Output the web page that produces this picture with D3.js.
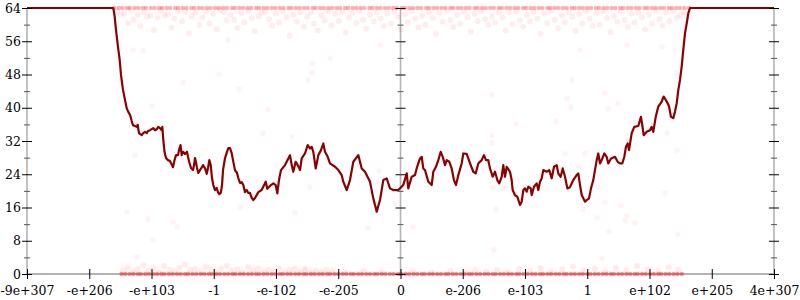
<!DOCTYPE html>
<html>
<head>
<meta charset="utf-8">
<script src="https://cdn.jsdelivr.net/npm/d3@7"></script>
<style>
body{margin:0;background:#fff;}
svg{display:block;background:#fff;}
.axis text{font-family:"DejaVu Serif";font-size:12.5px;fill:#000;}
</style>
</head>
<body>
<script>
//x axis: ordinal positions of floats, one unit per labelled tick
var xTickValues = [-6,-5,-4,-3,-2,-1,0,1,2,3,4,5,6];
var xTickLabels = ["-9e+307","-e+206","-e+103","-1","-e-102","-e-205","0","e-206","e-103","1","e+102","e+205","4e+307"];
//y axis: bits of error
var yMajor = [0,8,16,24,32,40,48,56,64];
var yMinor = [4,12,20,28,36,44,52,60];

//average error line [x, bits]
var avgError = [[-6,64],[-4.614,64],[-4.594,62.3],[-4.570,58.7],[-4.538,54.6],[-4.511,51.5],[-4.490,47.9],[-4.458,44.3],[-4.426,41.9],[-4.398,39.9],[-4.373,39.0],[-4.345,38.3],[-4.318,36.8],[-4.297,35.8],[-4.265,35.6],[-4.238,35.4],[-4.222,35.9],[-4.201,33.9],[-4.157,33.4],[-4.132,33.9],[-4.104,34.2],[-4.077,33.9],[-4.056,34.4],[-4.024,34.6],[-3.971,35.1],[-3.944,34.6],[-3.912,34.9],[-3.891,35.4],[-3.863,35.1],[-3.836,34.6],[-3.826,35.4],[-3.810,32.2],[-3.791,29.4],[-3.767,27.9],[-3.735,27.4],[-3.703,27.2],[-3.671,26.2],[-3.655,25.7],[-3.630,27.4],[-3.606,28.6],[-3.574,28.6],[-3.558,29.8],[-3.534,31.0],[-3.515,28.6],[-3.494,29.4],[-3.462,28.9],[-3.430,29.4],[-3.414,28.2],[-3.393,26.9],[-3.365,25.5],[-3.333,25.0],[-3.317,26.2],[-3.301,27.9],[-3.285,26.9],[-3.269,25.5],[-3.248,24.3],[-3.221,25.0],[-3.189,25.7],[-3.173,26.2],[-3.141,25.5],[-3.113,24.1],[-3.092,25.5],[-3.071,27.4],[-3.049,26.2],[-3.028,23.1],[-3.007,21.4],[-2.980,20.2],[-2.953,20.7],[-2.932,19.7],[-2.911,19.2],[-2.888,19.5],[-2.867,21.4],[-2.851,25.0],[-2.819,27.9],[-2.787,29.4],[-2.766,30.3],[-2.739,30.3],[-2.712,29.1],[-2.691,27.4],[-2.659,25.0],[-2.626,24.3],[-2.606,23.1],[-2.578,21.9],[-2.551,22.1],[-2.525,21.4],[-2.498,19.7],[-2.471,20.2],[-2.445,19.5],[-2.418,19.5],[-2.390,18.3],[-2.365,17.8],[-2.337,18.3],[-2.284,19.7],[-2.230,20.2],[-2.165,22.2],[-2.140,20.5],[-2.096,21.2],[-2.043,21.8],[-2.005,21.4],[-1.979,19.4],[-1.952,22.6],[-1.920,25.0],[-1.855,26.2],[-1.802,27.8],[-1.775,28.6],[-1.748,26.2],[-1.722,24.6],[-1.684,27.0],[-1.651,26.2],[-1.614,25.0],[-1.587,27.8],[-1.534,29.0],[-1.491,31.0],[-1.454,30.2],[-1.426,30.6],[-1.401,29.4],[-1.362,25.4],[-1.320,28.6],[-1.277,29.8],[-1.240,31.4],[-1.213,29.4],[-1.169,28.2],[-1.133,26.6],[-1.052,25.8],[-0.999,25.0],[-0.945,23.8],[-0.919,22.2],[-0.864,20.2],[-0.811,22.6],[-0.758,27.0],[-0.678,28.6],[-0.623,25.4],[-0.570,24.6],[-0.490,22.2],[-0.437,18.2],[-0.382,15.0],[-0.329,17.8],[-0.276,22.6],[-0.222,23.0],[-0.169,20.6],[-0.116,20.2],[-0.035,20.2],[0.045,21.4],[0.100,24.2],[0.125,20.6],[0.180,23.4],[0.233,23.8],[0.260,25.4],[0.313,27.8],[0.341,28.2],[0.366,25.4],[0.394,25.0],[0.447,22.2],[0.501,21.4],[0.527,24.6],[0.570,25.8],[0.607,27.4],[0.646,29.4],[0.678,28.2],[0.715,26.2],[0.742,27.4],[0.784,27.0],[0.822,25.4],[0.859,22.6],[0.892,21.4],[0.929,23.8],[0.983,26.6],[1.009,29.0],[1.063,28.9],[1.089,27.8],[1.128,26.2],[1.169,24.6],[1.208,24.2],[1.250,26.6],[1.304,27.4],[1.341,28.6],[1.373,27.4],[1.410,27.4],[1.438,25.4],[1.481,23.4],[1.518,24.6],[1.555,22.6],[1.587,21.8],[1.626,23.4],[1.651,26.2],[1.679,23.4],[1.706,25.8],[1.759,24.6],[1.786,22.6],[1.802,20.2],[1.839,19.0],[1.876,18.6],[1.920,16.6],[1.947,17.4],[1.973,20.2],[2.000,20.6],[2.027,19.8],[2.053,21.0],[2.092,20.6],[2.108,19.0],[2.145,21.0],[2.188,21.8],[2.214,20.2],[2.241,22.2],[2.268,23.0],[2.294,25.0],[2.349,24.6],[2.390,25.0],[2.429,23.0],[2.466,25.8],[2.509,26.2],[2.535,24.2],[2.573,23.4],[2.606,25.4],[2.643,23.4],[2.680,20.6],[2.723,20.9],[2.776,22.6],[2.830,23.8],[2.856,24.2],[2.884,21.4],[2.911,19.0],[2.937,18.2],[2.964,17.4],[2.991,17.8],[3.028,18.2],[3.060,20.6],[3.097,22.6],[3.124,25.0],[3.152,27.4],[3.177,29.0],[3.205,26.6],[3.232,27.4],[3.274,29.0],[3.312,28.2],[3.338,26.6],[3.382,27.8],[3.446,28.2],[3.489,27.0],[3.526,26.6],[3.563,26.6],[3.595,28.2],[3.622,30.6],[3.650,31.4],[3.671,29.8],[3.692,31.8],[3.714,33.9],[3.756,35.4],[3.820,35.6],[3.863,37.8],[3.884,35.8],[3.907,33.4],[3.955,34.2],[4.008,34.6],[4.035,35.4],[4.061,34.2],[4.100,37.8],[4.141,40.3],[4.196,41.5],[4.228,42.7],[4.276,41.5],[4.313,40.4],[4.345,37.8],[4.382,37.5],[4.410,39.1],[4.437,41.1],[4.463,44.3],[4.490,46.7],[4.517,49.9],[4.543,53.9],[4.570,57.9],[4.598,60.3],[4.623,62.7],[4.651,64],[6,64]];

//sample points sitting exactly at 64 bits (x only)
var pointsAt64 = [-4.60,-4.53,-4.47,-4.40,-4.35,-4.27,-4.21,-4.14,-4.09,-4.01,-3.95,-3.88,-3.83,-3.76,-3.70,-3.62,-3.57,-3.50,-3.44,-3.36,-3.31,-3.24,-3.18,-3.11,-3.05,-2.98,-2.92,-2.85,-2.79,-2.71,-2.66,-2.59,-2.53,-2.46,-2.40,-2.32,-2.27,-2.20,-2.14,-2.07,-2.01,-1.94,-1.88,-1.80,-1.75,-1.68,-1.62,-1.55,-1.49,-1.41,-1.36,-1.29,-1.23,-1.16,-1.10,-1.03,-0.97,-0.89,-0.84,-0.77,-0.71,-0.64,-0.58,-0.50,-0.45,-0.38,-0.32,-0.25,-0.19,-0.12,-0.06,0.02,0.07,0.14,0.20,0.27,0.33,0.41,0.46,0.53,0.59,0.66,0.72,0.80,0.85,0.92,0.98,1.05,1.11,1.19,1.24,1.31,1.37,1.44,1.50,1.58,1.63,1.70,1.76,1.83,1.89,1.97,2.02,2.09,2.15,2.22,2.28,2.36,2.41,2.48,2.54,2.61,2.67,2.75,2.80,2.87,2.93,3.00,3.06,3.14,3.19,3.26,3.32,3.39,3.45,3.53,3.58,3.65,3.71,3.78,3.84,3.92,3.97,4.04,4.10,4.17,4.23,4.31,4.36,4.43,4.49,4.56,4.63];
//sample points sitting exactly at 0 bits (x only)
var pointsAt0 = [-4.48,-4.42,-4.35,-4.29,-4.22,-4.17,-4.10,-4.04,-3.97,-3.91,-3.84,-3.79,-3.72,-3.66,-3.59,-3.53,-3.46,-3.41,-3.34,-3.28,-3.21,-3.15,-3.08,-3.03,-2.96,-2.90,-2.83,-2.77,-2.70,-2.65,-2.58,-2.52,-2.45,-2.39,-2.32,-2.27,-2.20,-2.14,-2.07,-2.01,-1.94,-1.89,-1.82,-1.76,-1.69,-1.63,-1.56,-1.51,-1.44,-1.38,-1.31,-1.25,-1.18,-1.13,-1.06,-1.00,-0.93,-0.87,-0.80,-0.75,-0.68,-0.62,-0.55,-0.49,-0.42,-0.37,-0.30,-0.24,-0.17,-0.11,-0.04,0.01,0.08,0.14,0.21,0.27,0.34,0.39,0.46,0.52,0.59,0.65,0.72,0.77,0.84,0.90,0.97,1.03,1.10,1.15,1.22,1.28,1.35,1.41,1.48,1.53,1.60,1.66,1.73,1.79,1.86,1.91,1.98,2.04,2.11,2.17,2.24,2.29,2.36,2.42,2.49,2.55,2.62,2.67,2.74,2.80,2.87,2.93,3.00,3.05,3.12,3.18,3.25,3.31,3.38,3.43,3.50,3.56,3.63,3.69,3.76,3.81,3.88,3.94,4.01,4.07,4.14,4.19,4.26,4.32,4.39,4.45,4.52];
//sample points just under 64 bits [x, bits]
var pointsTop = [[-4.55,63.1],[-4.49,62.4],[-4.44,62.7],[-4.38,60.4],[-4.33,63.6],[-4.29,61.2],[-4.22,62.4],[-4.18,59.6],[-4.12,63.0],[-4.07,61.9],[-4.01,62.2],[-3.96,58.7],[-3.90,61.7],[-3.85,63.4],[-3.79,62.2],[-3.74,62.5],[-3.68,59.3],[-3.63,61.4],[-3.57,63.2],[-3.51,60.8],[-3.46,63.1],[-3.40,57.9],[-3.35,62.0],[-3.29,62.9],[-3.23,59.9],[-3.18,61.8],[-3.12,63.3],[-3.07,60.3],[-3.01,62.6],[-2.95,58.9],[-2.90,63.5],[-2.84,63.0],[-2.79,61.0],[-2.73,62.3],[-2.67,61.1],[-2.62,59.2],[-2.56,62.8],[-2.51,60.6],[-2.45,63.4],[-2.39,61.6],[-2.34,58.4],[-2.28,62.0],[-2.23,62.9],[-2.17,63.1],[-2.11,61.3],[-2.06,59.7],[-2.00,62.7],[-1.95,60.5],[-1.89,63.2],[-1.83,61.8],[-1.78,57.4],[-1.72,62.4],[-1.67,60.7],[-1.61,63.0],[-1.55,59.5],[-1.50,61.9],[-1.44,62.9],[-1.39,60.2],[-1.33,58.6],[-1.27,62.2],[-1.22,61.0],[-1.16,63.3],[-1.11,59.8],[-1.05,62.6],[-0.99,60.9],[-0.94,63.1],[-0.88,58.1],[-0.83,61.7],[-0.77,62.8],[-0.71,60.4],[-0.66,63.4],[-0.60,61.2],[-0.55,59.0],[-0.49,62.3],[-0.43,60.8],[-0.38,63.0],[-0.32,61.5],[-0.27,59.6],[-0.21,62.7],[-0.15,60.3],[-0.10,63.2],[-0.04,61.9],[0.01,58.8],[0.07,62.5],[0.12,60.6],[0.18,63.3],[0.24,61.4],[0.29,59.3],[0.35,62.1],[0.40,60.0],[0.46,63.0],[0.52,61.6],[0.57,57.7],[0.63,62.8],[0.68,60.7],[0.74,63.4],[0.80,61.1],[0.85,59.4],[0.91,62.4],[0.96,60.2],[1.02,63.1],[1.08,61.8],[1.13,58.3],[1.19,62.6],[1.24,60.9],[1.30,63.2],[1.36,61.3],[1.41,59.9],[1.47,62.0],[1.52,60.5],[1.58,63.0],[1.64,61.7],[1.69,58.6],[1.75,62.9],[1.80,60.1],[1.86,63.3],[1.92,61.0],[1.97,59.5],[2.03,62.3],[2.08,60.8],[2.14,63.1],[2.20,61.5],[2.25,57.8],[2.31,62.7],[2.36,60.4],[2.42,63.4],[2.48,61.2],[2.53,59.1],[2.59,62.2],[2.64,60.6],[2.70,63.0],[2.76,61.9],[2.81,58.5],[2.87,62.5],[2.92,60.3],[2.98,63.2],[3.04,61.4],[3.09,59.7],[3.15,62.8],[3.20,60.0],[3.26,63.3],[3.32,61.6],[3.37,58.2],[3.43,62.1],[3.48,60.7],[3.54,63.1],[3.60,61.1],[3.65,59.4],[3.71,62.6],[3.76,60.5],[3.82,63.0],[3.88,61.8],[3.93,58.9],[3.99,62.4],[4.04,60.2],[4.10,63.4],[4.16,61.3],[4.21,59.8],[4.27,62.9],[4.32,60.8],[4.38,63.2],[4.44,61.6],[4.49,62.3],[4.55,63.0],[4.60,61.9]];
//sample points just above 0 bits [x, bits]
var pointsBottom = [[-4.46,0.9],[-4.38,1.6],[-4.30,0.6],[-4.22,1.2],[-4.13,2.1],[-4.05,0.8],[-3.97,1.4],[-3.88,0.5],[-3.80,1.9],[-3.71,1.0],[-3.63,0.7],[-3.55,1.5],[-3.46,2.3],[-3.38,0.9],[-3.30,1.2],[-3.21,0.6],[-3.13,1.7],[-3.04,1.0],[-2.96,0.4],[-2.88,1.3],[-2.79,2.0],[-2.71,0.8],[-2.62,1.1],[-2.54,0.5],[-2.45,1.6],[-2.37,0.9],[-2.29,1.3],[-2.20,0.6],[-2.12,1.0],[-2.03,0.7],[-1.95,1.4],[-1.86,0.5],[-1.78,0.9],[-1.70,1.2],[-1.61,0.6],[-1.53,1.0],[-1.44,0.4],[-1.36,0.8],[-1.27,0.5],[-1.19,0.9],[-1.10,0.6],[-0.90,0.5],[-0.60,0.7],[-0.30,0.4],[0.20,0.6],[0.50,0.4],[0.80,0.7],[1.05,0.5],[1.20,0.9],[1.38,0.6],[1.55,1.0],[1.72,0.5],[1.90,1.2],[2.08,0.7],[2.25,1.4],[2.42,0.6],[2.60,1.1],[2.77,1.8],[2.94,0.8],[3.12,1.3],[3.29,0.6],[3.46,1.5],[3.63,0.9],[3.80,2.0],[3.97,1.1],[4.14,0.7],[4.31,1.6],[4.46,1.0]];
//scattered sample points in the middle [x, bits]
var pointsSparse = [[-4.297,53.9],[-4.137,53.7],[-3.992,40.4],[-3.494,46.0],[-2.916,48.1],[-2.594,44.5],[-2.771,56.3],[-4.265,28.6],[-4.394,14.9],[-4.056,13.2],[-2.578,16.1],[-3.976,8.2],[-4.233,4.1],[-3.655,12.5],[-3.590,11.3],[1.855,36.1],[2.498,36.6],[1.470,33.4],[1.470,31.5],[2.643,28.9],[1.486,20.7],[1.663,20.5],[1.534,15.6],[-2.209,33.9],[-1.743,33.0],[-1.454,20.9],[-1.695,14.7],[-0.345,24.8],[-0.088,17.1],[-2.129,39.5],[2.884,53.9],[2.755,46.7],[2.675,42.3],[2.739,40.2],[3.333,39.7],[3.494,41.1],[3.285,43.5],[4.281,33.9],[4.442,29.8],[4.426,48.4],[4.201,54.6],[3.639,55.1],[2.964,29.1],[2.867,25.7],[3.173,20.9],[4.249,19.5],[3.542,16.4],[3.157,13.5],[2.932,15.6],[3.285,17.3],[3.639,14.0],[3.606,12.8],[3.767,12.3],[3.350,10.3],[4.458,9.6],[3.237,3.8],[-0.521,11.1],[0.201,11.3],[-1.534,1.4],[1.502,5.8],[-1.410,50.7],[-1.422,48.4],[-1.486,46.7],[-1.133,51.9],[-0.329,55.1],[1.465,43.1]];

(function(){

    //frame dimensions
    var width = 800,
        height = 300,
        plotLeft = 27,
        plotRight = 774,
        plotTop = 8,
        plotBottom = 274;

    var svg = d3.select("body")
        .append("svg")
        .attr("width", width)
        .attr("height", height);

    var x = d3.scaleLinear()
        .domain([-6, 6])
        .range([plotLeft, plotRight]);

    var y = d3.scaleLinear()
        .domain([0, 64])
        .range([plotBottom, plotTop]);

    //gray axis lines
    var axisLines = svg.append("g");
    [-6, 0, 6].forEach(function(v){
        axisLines.append("line")
            .attr("x1", x(v)).attr("x2", x(v))
            .attr("y1", y(64)).attr("y2", y(0))
            .attr("stroke", "#b3b3b3")
            .attr("stroke-width", 1.6);
    });
    axisLines.append("line")
        .attr("x1", x(-6)).attr("x2", x(6))
        .attr("y1", y(0)).attr("y2", y(0))
        .attr("stroke", "#b3b3b3")
        .attr("stroke-width", 2);

    //sample points
    var pts = svg.append("g");
    function addPoints(data, getX, getY, r, opacity){
        pts.selectAll(null)
            .data(data)
            .enter()
            .append("circle")
            .attr("cx", function(d){ return x(getX(d)); })
            .attr("cy", function(d){ return y(getY(d)); })
            .attr("r", r)
            .attr("fill", "red")
            .attr("fill-opacity", opacity);
    }
    addPoints(pointsSparse, function(d){ return d[0]; }, function(d){ return d[1]; }, 2.8, 0.05);
    addPoints(pointsTop, function(d){ return d[0]; }, function(d){ return d[1]; }, 3, 0.07);
    addPoints(pointsBottom, function(d){ return d[0]; }, function(d){ return d[1]; }, 3, 0.08);
    addPoints(pointsAt64, function(d){ return d; }, function(){ return 64; }, 2.2, 0.3);
    addPoints(pointsAt0, function(d){ return d; }, function(){ return 0; }, 2.2, 0.4);

    //average error line
    var line = d3.line()
        .x(function(d){ return x(d[0]); })
        .y(function(d){ return y(d[1]); });

    svg.append("path")
        .datum(avgError)
        .attr("d", line)
        .attr("fill", "none")
        .attr("stroke", "#8b0000")
        .attr("stroke-width", 2.2)
        .attr("stroke-linejoin", "round");

    //vertical axes with ticks crossing the line
    function vAxis(v, labels){
        var g = svg.append("g")
            .attr("class", "axis")
            .attr("transform", "translate(" + x(v) + ",0)");
        g.append("g").call(d3.axisLeft(y).tickValues(yMajor).tickSize(5).tickPadding(1)
            .tickFormat(labels ? d3.format("d") : ""));
        g.append("g").call(d3.axisRight(y).tickValues(yMajor).tickSize(5).tickFormat(""));
        g.append("g").attr("color", "#555").call(d3.axisLeft(y).tickValues(yMinor).tickSize(3).tickFormat(""));
        g.append("g").attr("color", "#555").call(d3.axisRight(y).tickValues(yMinor).tickSize(3).tickFormat(""));
        g.selectAll(".domain").remove();
    }
    vAxis(-6, true);
    vAxis(0, false);
    vAxis(6, false);

    //horizontal axis
    var xg = svg.append("g")
        .attr("class", "axis")
        .attr("transform", "translate(0," + y(0) + ")");
    xg.append("g").call(d3.axisBottom(x).tickValues(xTickValues).tickSize(5).tickPadding(7)
        .tickFormat(function(d, i){ return xTickLabels[i]; }));
    xg.append("g").call(d3.axisTop(x).tickValues(xTickValues).tickSize(5).tickFormat(""));
    xg.selectAll(".domain").remove();

})();
</script>
</body>
</html>
